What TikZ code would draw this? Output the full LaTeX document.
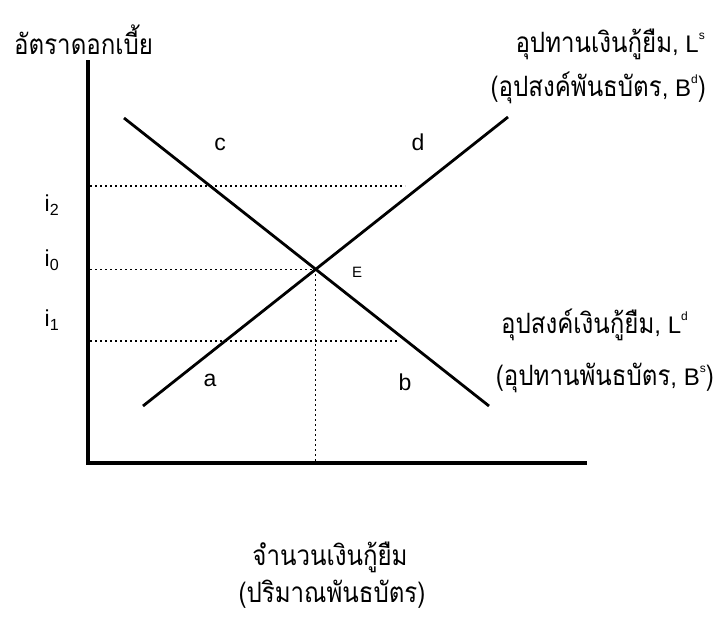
\documentclass[tikz,border=0pt]{standalone}
\usepackage{fontspec}
\setmainfont{Liberation Sans}
\newfontfamily\thaifont[Script=Thai,FakeStretch=0.86]{Loma}
\newcommand{\thz}{\thaifont\fontsize{28}{32}\selectfont}
\newcommand{\latz}{\normalfont\fontsize{24}{27}\selectfont}
\newcommand{\spsz}[1]{\raisebox{1.0ex}{\fontsize{12}{13}\selectfont #1}}
\begin{document}
\begin{tikzpicture}[x=1pt,y=-1pt,
  axis/.style={line width=4.5pt},
  curve/.style={line width=2.8pt},
  guide/.style={line width=1.5pt,dash pattern=on 2pt off 3pt},
  lbl/.style={font=\fontsize{21}{25}\selectfont,inner sep=0pt},
  sym/.style={font=\fontsize{23}{27}\selectfont,inner sep=0pt},
  tiny/.style={font=\fontsize{15}{17}\selectfont,inner sep=0pt}]
\useasboundingbox (0,0) rectangle (717,619);
\fill[white] (0,0) rectangle (717,619);
% axes
\coordinate (O) at (88,463);
\coordinate (Ytop) at (88,60);
\coordinate (Xend) at (587,463);
\draw[axis] (Ytop) -- (O) -- (Xend);
% curves
\coordinate (D1) at (124,118);
\coordinate (D2) at (489,406);
\coordinate (S1) at (143,406);
\coordinate (S2) at (508,117);
\draw[curve] (D1) -- (D2);
\draw[curve] (S1) -- (S2);
\coordinate (E) at (intersection of D1--D2 and S1--S2);
% guides
\coordinate (Y2) at (90,186);
\coordinate (X2) at (405,186);
\coordinate (Y1) at (90,341);
\coordinate (X1) at (398,341);
\coordinate (Y0) at ([xshift=2pt]O |- E);
\draw[guide] (Y2) -- (X2);
\draw[guide] (Y1) -- (X1);
\draw[guide] (Y0) -- (E);
\draw[guide] (E) -- (E |- O);
% labels
\node[sym] (i2) at (52,205) {i\textsubscript{2}};
\node[sym] (i0) at (52,260) {i\textsubscript{0}};
\node[sym] (i1) at (52,320) {i\textsubscript{1}};
\node[sym] (lc) at (220,144) {c};
\node[sym] (ld) at (418,142) {d};
\node[sym] (la) at (210,380) {a};
\node[sym] (lb) at (405,382) {b};
\node[tiny] (lE) at (357,272) {E};
\node[lbl,anchor=west] (ylab) at (14,40) {\thz อัตราดอกเบี้ย};
\node[lbl,anchor=east] (ls) at (705,44) {\thz อุปทานเงินกู้ยืม\latz, L\spsz{s}};
\node[lbl,anchor=east] (bd) at (706,88) {\thz (อุปสงค์พันธบัตร\latz, B\spsz{d}\thz)};
\node[lbl,anchor=east] (ld2) at (688,325) {\thz อุปสงค์เงินกู้ยืม\latz, L\spsz{d}};
\node[lbl,anchor=east] (bs) at (714,378) {\thz (อุปทานพันธบัตร\latz, B\spsz{s}\thz)};
\node[lbl] (xlab1) at (330,557) {\thz จำนวนเงินกู้ยืม};
\node[lbl] (xlab2) at (332,594) {\thz (ปริมาณพันธบัตร)};
\end{tikzpicture}
\end{document}
